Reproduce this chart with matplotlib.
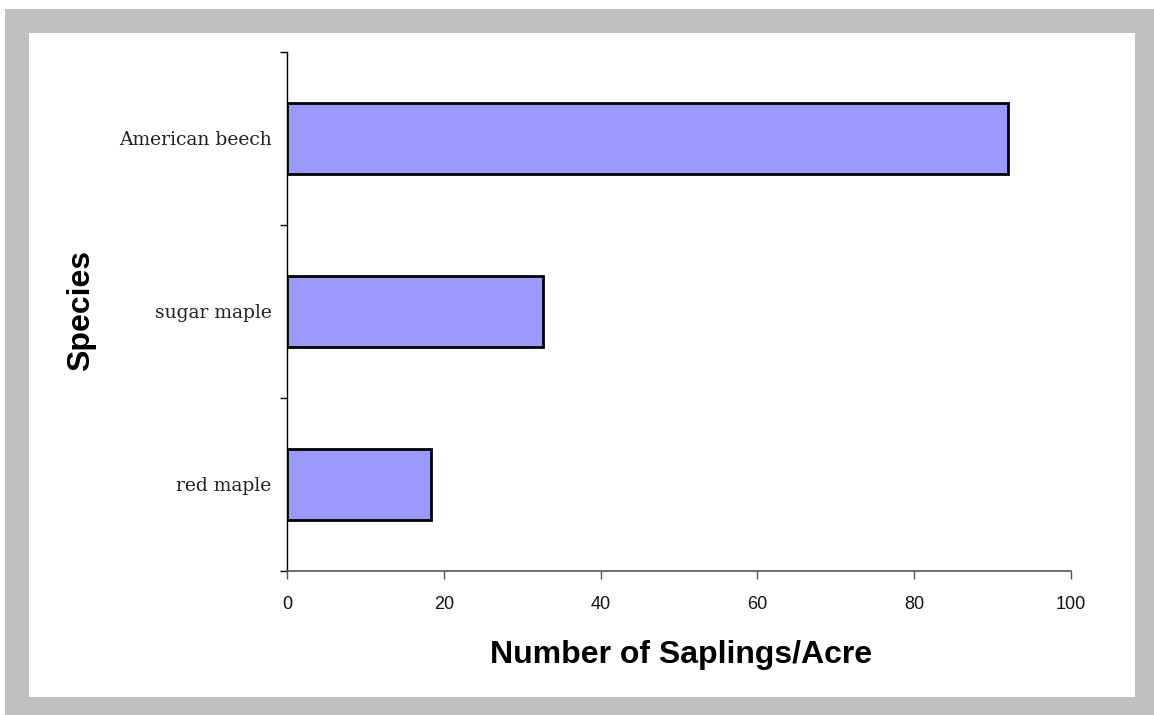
import matplotlib
matplotlib.use("Agg")
import matplotlib.pyplot as plt
from matplotlib.patches import Rectangle
import numpy as np

# Sapling density by species
species = ["red maple", "sugar maple", "American beech"]
saplings_per_acre = [18.4, 32.6, 92.0]
x_ticks = [0, 20, 40, 60, 80, 100]

W, H = 1154, 715
fig = plt.figure(figsize=(W / 100, H / 100), dpi=100)
fig.patch.set_facecolor("white")

# Grey chart-area frame with white plot area inside
def px_rect(x0, y0, x1, y1, color, z):
    fig.patches.append(Rectangle((x0 / W, 1 - y1 / H), (x1 - x0) / W, (y1 - y0) / H,
                                 transform=fig.transFigure, facecolor=color,
                                 edgecolor="none", zorder=z))

px_rect(5, 9, W, H, "#C0C0C0", 0)
px_rect(29, 33, 1135, 697, "white", 1)

ax_l, ax_r, ax_t, ax_b = 287, 1071, 52, 571
ax = fig.add_axes([ax_l / W, 1 - ax_b / H, (ax_r - ax_l) / W, (ax_b - ax_t) / H])
ax.set_facecolor("none")
ax.set_zorder(2)

pos = np.arange(len(species))
ax.barh(pos, saplings_per_acre, height=0.41, color="#9999FF",
        edgecolor="black", linewidth=2.0, zorder=3)

ax.set_xlim(0, 100)
ax.set_ylim(-0.5, len(species) - 0.5)

for s in ["top", "right"]:
    ax.spines[s].set_visible(False)
ax.spines["left"].set_color("black")
ax.spines["left"].set_linewidth(1.0)
ax.spines["bottom"].set_color("#555555")
ax.spines["bottom"].set_linewidth(1.2)

# X axis ticks and labels
ax.set_xticks(x_ticks)
ax.set_xticklabels([str(t) for t in x_ticks], fontfamily="Liberation Sans",
                   fontsize=13, color="#111111")
ax.tick_params(axis="x", direction="out", length=6, width=1.0, color="#555555", pad=12)

# Y axis: category labels at centers, tick marks at boundaries
ax.set_yticks(pos)
ax.set_yticklabels(species, fontfamily="DejaVu Serif", fontsize=13.5, color="#222222")
ax.tick_params(axis="y", which="major", length=0, pad=11)
ax.set_yticks(np.arange(-0.5, len(species)), minor=True)
ax.tick_params(axis="y", which="minor", direction="out", length=5, width=1.0, color="black")

ax.set_xlabel("Number of Saplings/Acre", fontfamily="Liberation Sans", fontsize=23,
              fontweight="bold", va="center")
ax.xaxis.set_label_coords((681 - ax_l) / (ax_r - ax_l), (ax_b - 655) / (ax_b - ax_t))
ax.set_ylabel("Species", fontfamily="Liberation Sans", fontsize=23,
              fontweight="bold", va="center", ha="center")
ax.yaxis.set_label_coords((81 - ax_l) / (ax_r - ax_l), (ax_b - 310) / (ax_b - ax_t))

fig.savefig("out.png", dpi=100)
